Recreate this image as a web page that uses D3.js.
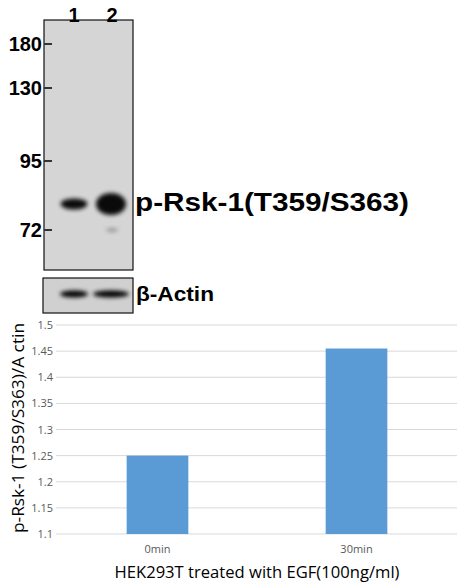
<!DOCTYPE html>
<html><head><meta charset="utf-8">
<script src="https://cdn.jsdelivr.net/npm/d3@7"></script>
<style>body{margin:0;background:#fff}svg{display:block}</style>
</head><body>
<svg id="c" width="457" height="585"></svg>
<script>
const lanes = ["1", "2"];
const markers = [180, 130, 95, 72];
const markerPos = [44, 88, 161, 230];
const bandIntensity = [0.6, 1.0];
const categories = ["0min", "30min"];
const values = [1.25, 1.455];
const yTicks = [1.1, 1.15, 1.2, 1.25, 1.3, 1.35, 1.4, 1.45, 1.5];

const svg = d3.select("#c");
const defs = svg.append("defs");
defs.append("filter").attr("id","bl").attr("x","-50%").attr("y","-100%").attr("width","200%").attr("height","300%")
  .append("feGaussianBlur").attr("stdDeviation",2);

svg.append("rect").attr("x",44).attr("y",20).attr("width",89).attr("height",250)
  .attr("fill","#d5d5d5").attr("stroke","#111").attr("stroke-width",1.2);
svg.append("rect").attr("x",43).attr("y",278).attr("width",90).attr("height",35)
  .attr("fill","#d0d0d0").attr("stroke","#111").attr("stroke-width",1.2);

const laneX = d3.scalePoint().domain(lanes).range([74,112]);
svg.selectAll(".ln").data(lanes).join("text")
  .attr("x",d=>laneX(d)).attr("y",22).attr("text-anchor","middle")
  .attr("font-family","Arial, Liberation Sans").attr("font-weight","bold").attr("font-size",20).text(d=>d);

const g = svg.append("g");
markers.forEach((m,i)=>{
  g.append("text").attr("x",42).attr("y",markerPos[i]+7).attr("text-anchor","end")
   .attr("font-family","Arial, Liberation Sans").attr("font-weight","bold").attr("font-size",20).text(m);
  g.append("line").attr("x1",44).attr("x2",52).attr("y1",markerPos[i]).attr("y2",markerPos[i])
   .attr("stroke","#333").attr("stroke-width",2);
});

lanes.forEach((l,i)=>{
  const w = 22 + 8*bandIntensity[i], h = 7 + 14*(bandIntensity[i]-0.6)/0.4*0.8;
  svg.append("ellipse").attr("cx",laneX(l)+(i?-1:0)).attr("cy",204).attr("rx",w/2).attr("ry",h/2+2)
    .attr("fill","#000").attr("opacity",0.95).attr("filter","url(#bl)");
  svg.append("ellipse").attr("cx",laneX(l)+(i?-1:0)).attr("cy",294).attr("rx",i?18:14).attr("ry",3.5)
    .attr("fill","#000").attr("filter","url(#bl)");
});
svg.append("ellipse").attr("cx",112).attr("cy",230).attr("rx",6).attr("ry",2).attr("fill","#999").attr("filter","url(#bl)");

svg.append("text").attr("x",135).attr("y",211).attr("font-family","Arial, Liberation Sans")
  .attr("font-weight","bold").attr("font-size",26).attr("textLength",274).attr("lengthAdjust","spacingAndGlyphs")
  .text("p-Rsk-1(T359/S363)");
svg.append("text").attr("x",136).attr("y",301).attr("font-family","Arial, Liberation Sans")
  .attr("font-weight","bold").attr("font-size",21).attr("textLength",78).attr("lengthAdjust","spacingAndGlyphs")
  .text("β-Actin");

const y = d3.scaleLinear().domain([1.1,1.5]).range([534,325]);
const x = d3.scaleBand().domain(categories).range([57,457]).paddingInner(0.69).paddingOuter(0.35);
const ff = "Segoe UI, Open Sans, DejaVu Sans, sans-serif";
svg.append("g").selectAll("line").data(yTicks).join("line")
  .attr("x1",56).attr("x2",457).attr("y1",d=>y(d)).attr("y2",d=>y(d)).attr("stroke","#d9d9d9");
svg.append("g").selectAll("text").data(yTicks).join("text")
  .attr("x",53).attr("y",d=>y(d)+4).attr("text-anchor","end").attr("font-family",ff)
  .attr("font-size",11).attr("fill","#595959").text(d=>d3.format("")(d));
svg.append("g").selectAll("rect").data(values).join("rect")
  .attr("x",(d,i)=>x(categories[i])).attr("width",x.bandwidth())
  .attr("y",d=>y(d)).attr("height",d=>y(1.1)-y(d)).attr("fill","#5b9bd5");
svg.append("g").selectAll("text").data(categories).join("text")
  .attr("x",d=>x(d)+x.bandwidth()/2).attr("y",553).attr("text-anchor","middle")
  .attr("font-family",ff).attr("font-size",11).attr("fill","#595959").text(d=>d);
svg.append("text").attr("x",257).attr("y",578).attr("text-anchor","middle").attr("font-family",ff)
  .attr("font-size",17).attr("fill","#000").attr("textLength",285).attr("lengthAdjust","spacingAndGlyphs")
  .text("HEK293T treated with EGF(100ng/ml)");
svg.append("text").attr("transform","translate(24,428) rotate(-90)").attr("text-anchor","middle")
  .attr("font-family",ff).attr("font-size",17).attr("fill","#000").attr("textLength",210).attr("lengthAdjust","spacingAndGlyphs")
  .text("p-Rsk-1 (T359/S363)/A ctin");
</script>
</body></html>
